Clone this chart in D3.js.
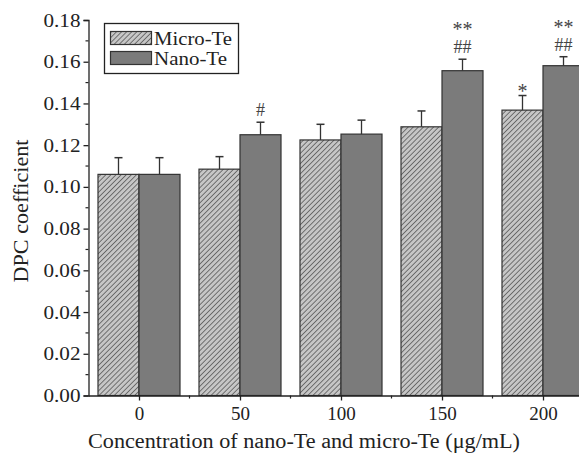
<!DOCTYPE html>
<html>
<head>
<meta charset="utf-8">
<script src="https://cdn.jsdelivr.net/npm/d3@7"></script>
<style>
  body { margin: 0; background: #fff; }
  svg { display: block; }
</style>
</head>
<body>
<script>
// concentrations (ug/mL)
var concentrations = [0, 50, 100, 150, 200];
var microValues = [0.106, 0.1085, 0.1225, 0.1288, 0.1368];
var microErrors = [0.008, 0.006, 0.0075, 0.0076, 0.007];
var nanoValues = [0.106, 0.125, 0.1253, 0.1557, 0.1581];
var nanoErrors = [0.008, 0.006, 0.0067, 0.0055, 0.0043];
// significance marks: [upper line, lower line]
var microMarks = [[], [], [], [], ["*"]];
var nanoMarks = [[], ["#"], [], ["**", "##"], ["**", "##"]];
var yTicks = [0, 0.02, 0.04, 0.06, 0.08, 0.10, 0.12, 0.14, 0.16, 0.18];

var width = 579, height = 456;
var font = "'Liberation Serif', 'Times New Roman', serif";

var svg = d3.select("body").append("svg")
    .attr("width", width)
    .attr("height", height);

var defs = svg.append("defs");
var pat = defs.append("pattern")
    .attr("id", "hatch")
    .attr("patternUnits", "userSpaceOnUse")
    .attr("width", 3.6)
    .attr("height", 3.6)
    .attr("patternTransform", "rotate(45)");
pat.append("rect").attr("width", 3.6).attr("height", 3.6).attr("fill", "#c6c6c6");
pat.append("line")
    .attr("x1", 0).attr("y1", 0).attr("x2", 0).attr("y2", 3.6)
    .attr("stroke", "#4a4a4a").attr("stroke-width", 1.4);

var x = d3.scaleLinear().domain([-25, 225]).range([88.5, 593.5]);
var y = d3.scaleLinear().domain([0, 0.18]).range([395.5, 20]);
var barW = x(20.3) - x(0);

var g = svg.append("g");

// bars
concentrations.forEach(function(c, i) {
    g.append("rect")
        .attr("x", x(c) - barW)
        .attr("y", y(microValues[i]))
        .attr("width", barW)
        .attr("height", y(0) - y(microValues[i]))
        .attr("fill", "url(#hatch)")
        .attr("stroke", "#333")
        .attr("stroke-width", 1.2);
    g.append("rect")
        .attr("x", x(c))
        .attr("y", y(nanoValues[i]))
        .attr("width", barW)
        .attr("height", y(0) - y(nanoValues[i]))
        .attr("fill", "#7b7b7b")
        .attr("stroke", "#333")
        .attr("stroke-width", 1.2);
});

// error bars (upper only)
function errBar(cx, v, e) {
    g.append("line")
        .attr("x1", cx).attr("x2", cx)
        .attr("y1", y(v)).attr("y2", y(v + e))
        .attr("stroke", "#333").attr("stroke-width", 1.3);
    g.append("line")
        .attr("x1", cx - 4).attr("x2", cx + 4)
        .attr("y1", y(v + e)).attr("y2", y(v + e))
        .attr("stroke", "#333").attr("stroke-width", 1.5);
}
function marks(cx, v, e, list) {
    var top = y(v + e);
    list.slice().reverse().forEach(function(m, k) {
        var isStar = m.indexOf("*") >= 0;
        var yy = top - 6 - k * 17;
        if (isStar && k === 0) yy += 8;
        g.append("text")
            .attr("x", cx)
            .attr("y", yy)
            .attr("text-anchor", "middle")
            .attr("font-family", font)
            .attr("font-size", isStar ? "20px" : "18px")
            .attr("fill", "#444")
            .text(m);
    });
}
concentrations.forEach(function(c, i) {
    var mx = x(c) - barW / 2, nx = x(c) + barW / 2;
    errBar(mx, microValues[i], microErrors[i]);
    errBar(nx, nanoValues[i], nanoErrors[i]);
    marks(mx, microValues[i], microErrors[i], microMarks[i]);
    marks(nx, nanoValues[i], nanoErrors[i], nanoMarks[i]);
});

// y axis
var yAxis = d3.axisLeft(y).tickValues(yTicks).tickFormat(d3.format(".2f"))
    .tickSize(5).tickPadding(3);
var ya = svg.append("g").attr("transform", "translate(88.5,0)").call(yAxis);
ya.select(".domain").attr("stroke", "#222").attr("stroke-width", 1.3);
ya.selectAll(".tick line").attr("stroke", "#222").attr("stroke-width", 1.3);
ya.selectAll("text").attr("font-family", font).attr("font-size", "19px").attr("fill", "#222")
    .attr("textLength", 37).attr("lengthAdjust", "spacingAndGlyphs");
var yMinor = d3.range(0.01, 0.18, 0.02);
ya.selectAll(".minor").data(yMinor).enter().append("line")
    .attr("x1", 0).attr("x2", -3)
    .attr("y1", function(d) { return y(d); })
    .attr("y2", function(d) { return y(d); })
    .attr("stroke", "#222").attr("stroke-width", 1.2);

// x axis
var xAxis = d3.axisBottom(x).tickValues(concentrations).tickFormat(d3.format("d"))
    .tickSize(5).tickPadding(6).tickSizeOuter(0);
var xa = svg.append("g").attr("transform", "translate(0,395.5)").call(xAxis);
xa.select(".domain").attr("stroke", "#222").attr("stroke-width", 1.3);
xa.selectAll(".tick line").attr("stroke", "#222").attr("stroke-width", 1.3);
xa.selectAll("text").attr("font-family", font).attr("font-size", "19px").attr("fill", "#222");
var xMinor = [25, 75, 125, 175];
xa.selectAll(".minor").data(xMinor).enter().append("line")
    .attr("x1", function(d) { return x(d); })
    .attr("x2", function(d) { return x(d); })
    .attr("y1", 0).attr("y2", 3)
    .attr("stroke", "#222").attr("stroke-width", 1.2);

// axis titles
svg.append("text")
    .attr("x", 304)
    .attr("y", 448)
    .attr("text-anchor", "middle")
    .attr("font-family", font)
    .attr("font-size", "20px")
    .attr("fill", "#222")
    .attr("textLength", 432)
    .attr("lengthAdjust", "spacingAndGlyphs")
    .text("Concentration of nano-Te and micro-Te (\u03bcg/mL)");
svg.append("text")
    .attr("transform", "translate(28,211) rotate(-90)")
    .attr("text-anchor", "middle")
    .attr("font-family", font)
    .attr("font-size", "20px")
    .attr("fill", "#222")
    .attr("textLength", 143)
    .attr("lengthAdjust", "spacingAndGlyphs")
    .text("DPC coefficient");

// legend
var lg = svg.append("g");
lg.append("rect")
    .attr("x", 104.5).attr("y", 23.5).attr("width", 134).attr("height", 50)
    .attr("fill", "#fff").attr("stroke", "#222").attr("stroke-width", 1.3);
var legendItems = [["Micro-Te", "url(#hatch)", 78], ["Nano-Te", "#7b7b7b", 73]];
legendItems.forEach(function(d, i) {
    lg.append("rect")
        .attr("x", 110.5).attr("y", 31.5 + i * 20)
        .attr("width", 41).attr("height", 13)
        .attr("fill", d[1]).attr("stroke", "#333").attr("stroke-width", 1.2);
    lg.append("text")
        .attr("x", 154).attr("y", 45 + i * 20)
        .attr("font-family", font)
        .attr("font-size", "19px")
        .attr("fill", "#222")
        .attr("textLength", d[2])
        .attr("lengthAdjust", "spacingAndGlyphs")
        .text(d[0]);
});
</script>
</body>
</html>
